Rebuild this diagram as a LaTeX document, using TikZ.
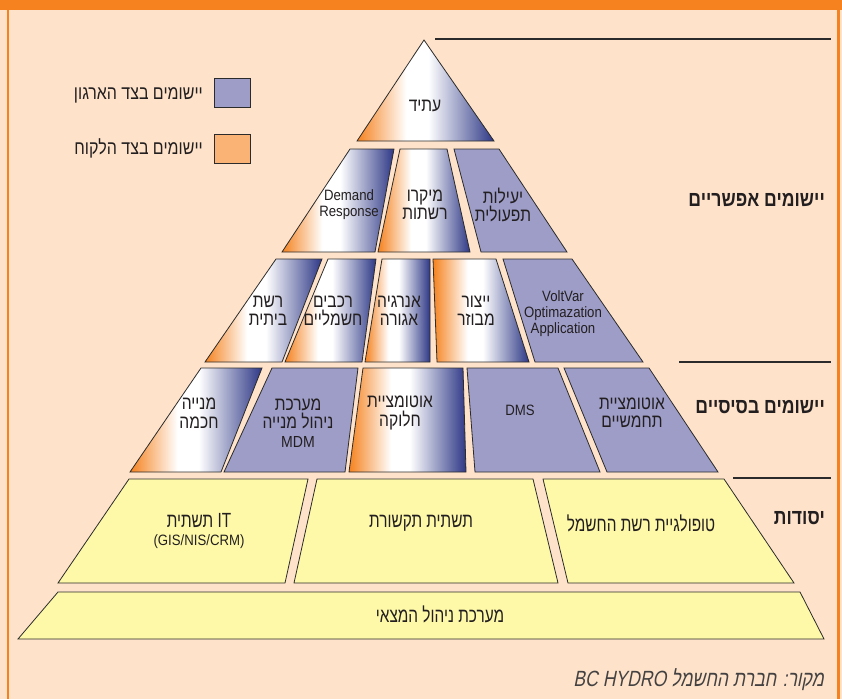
\documentclass[tikz,border=0pt]{standalone}
\usepackage{fontspec}
\setmainfont{Liberation Sans}
\newfontfamily\hebfont[Script=Hebrew,FakeStretch=0.82]{Liberation Sans}
\newfontfamily\hebthin[Script=Hebrew,FakeStretch=0.75]{Liberation Sans}
\newfontfamily\latfont[FakeStretch=0.88]{Liberation Sans}
\newfontfamily\capfont[Script=Hebrew,FakeSlant=0.2,FakeStretch=0.8]{Liberation Sans}
\TeXXeTstate=1
\newcommand\hl[1]{\beginR #1\endR}
\definecolor{bgC}{HTML}{FEE3CA}
\definecolor{borC}{HTML}{F5821F}
\definecolor{gor}{HTML}{F5821F}
\definecolor{gbl}{HTML}{2E3886}
\definecolor{lavC}{HTML}{9D9DC8}
\definecolor{yelC}{HTML}{FEF9A8}
\definecolor{legO}{HTML}{FBB275}
\definecolor{lineC}{HTML}{2B2B2B}
\definecolor{txtC}{HTML}{231F20}
\pgfdeclarehorizontalshading{obw}{100bp}{color(0bp)=(gor); color(25bp)=(gor); color(43bp)=(white); color(51bp)=(white); color(75bp)=(gbl); color(100bp)=(gbl)}
\tikzset{
  shp/.style={draw=lineC, line width=0.8pt, line join=miter},
  grad/.style={shp, shade, shading=obw, shading angle=0},
  lav/.style={shp, fill=lavC},
  yel/.style={shp, fill=yelC},
  txt/.style={text=txtC, font=\hebfont\fontsize{19}{18.5}\selectfont, align=center, inner sep=0pt},
  lat/.style={text=txtC, font=\latfont\fontsize{15}{16}\selectfont, align=center, inner sep=0pt},
  ftxt/.style={text=txtC, font=\hebthin\fontsize{20.5}{18.5}\selectfont, align=center, inner sep=0pt},
  lbl/.style={text=txtC, font=\hebfont\bfseries\fontsize{21.5}{22}\selectfont, inner sep=0pt, anchor=east},
  legtxt/.style={text=txtC, font=\hebfont\fontsize{19.5}{20}\selectfont, inner sep=0pt, anchor=east},
  legbox/.style={draw=lineC, line width=0.8pt, minimum width=36pt, minimum height=29pt, inner sep=0pt},
  rule/.style={draw=lineC, line width=1.2pt},
  captxt/.style={text=txtC!85, font=\capfont\fontsize{22}{22}\selectfont, inner sep=0pt, anchor=east}
}
\begin{document}
\begin{tikzpicture}[x=1pt,y=-1pt]
\useasboundingbox (0,0) rectangle (842,699);
% background and frame
\fill[bgC] (0,0) rectangle (842,699);
\fill[borC] (0,0) rectangle (842,10);
\fill[borC] (6.5,0) rectangle (9,699);
\fill[borC] (837,0) rectangle (840,699);
% rules
\coordinate (r1a) at (435,39); \coordinate (r1b) at (831,39);
\coordinate (r2a) at (679,362); \coordinate (r2b) at (831,362);
\coordinate (r3a) at (733,478); \coordinate (r3b) at (831,478);
\draw[rule] (r1a) -- (r1b);
\draw[rule] (r2a) -- (r2b);
\draw[rule] (r3a) -- (r3b);
% apex
\draw[grad] (424,40) -- (494,141) -- (357,141) -- cycle;
% row 2
\draw[grad] (350,149) -- (394,149) -- (375,252) -- (282,252) -- cycle;
\draw[grad] (400,149) -- (447,149) -- (470,252) -- (378,252) -- cycle;
\draw[lav]  (454,149) -- (499,149) -- (567,252) -- (481,252) -- cycle;
% row 3
\draw[grad] (276,259) -- (322,259) -- (282,362) -- (205,362) -- cycle;
\draw[grad] (328,259) -- (376,259) -- (362,362) -- (285,362) -- cycle;
\draw[grad] (382,259) -- (430,259) -- (430,362) -- (365,362) -- cycle;
\draw[grad] (433,259) -- (496,259) -- (529,362) -- (437,362) -- cycle;
\draw[lav]  (503,259) -- (572,259) -- (643,362) -- (535,362) -- cycle;
% row 4
\draw[grad] (201,368) -- (262,368) -- (221,472) -- (130,472) -- cycle;
\draw[lav]  (272,368) -- (358,368) -- (345,472) -- (224,472) -- cycle;
\draw[grad] (363,368) -- (463,368) -- (466,472) -- (349,472) -- cycle;
\draw[lav]  (467,368) -- (558,368) -- (600,472) -- (475,472) -- cycle;
\draw[lav]  (564,368) -- (649,368) -- (718,472) -- (607,472) -- cycle;
% foundations
\draw[yel] (129,479) -- (308,479) -- (285,583) -- (58,583) -- cycle;
\draw[yel] (317,479) -- (533,479) -- (558,583) -- (294,583) -- cycle;
\draw[yel] (543,479) -- (724,479) -- (794,583) -- (568,583) -- cycle;
\draw[yel] (58,592) -- (800,592) -- (824,639) -- (18,639) -- cycle;
% texts
\node[txt] (tAtid) at (425,106) {\hl{עתיד}};
\node[lat] (tDR) at (349,205) {Demand\\Response};
\node[txt] (tMicro) at (425,205) {\hl{מיקרו}\\\hl{רשתות}};
\node[txt] (tYeil) at (503,205) {\hl{יעילות}\\\hl{תפעולית}};
\node[txt] (tBeit) at (268,311) {\hl{רשת}\\\hl{ביתית}};
\node[txt] (tRech) at (333,311) {\hl{רכבים}\\\hl{חשמליים}};
\node[txt] (tEnerg) at (399,311) {\hl{אנרגיה}\\\hl{אגורה}};
\node[txt] (tYitz) at (476,311) {\hl{ייצור}\\\hl{מבוזר}};
\node[lat] (tVV) at (563,314) {VoltVar\\Optimazation\\Application};
\node[txt] (tMon) at (199,413) {\hl{מנייה}\\\hl{חכמה}};
\node[txt] (tMDM) at (298,423) {\hl{מערכת}\\\hl{ניהול מנייה}\\{\latfont\fontsize{16}{16}\selectfont MDM}};
\node[txt] (tAutoH) at (400,413) {\hl{אוטומציית}\\\hl{חלוקה}};
\node[lat] (tDMS) at (520,410) {DMS};
\node[txt] (tAutoT) at (632,413) {\hl{אוטומציית}\\\hl{תחמשיים}};
\node[ftxt] (tIT) at (199,531) {\hl{\beginL IT\endL{} תשתית}\\{\latfont\fontsize{15}{15}\selectfont (GIS/NIS/CRM)}};
\node[ftxt] (tTik) at (421,523) {\hl{תשתית תקשורת}};
\node[ftxt] (tTop) at (641,523) {\hl{טופולגיית רשת החשמל}};
\node[ftxt] (tMlay) at (440,614) {\hl{מערכת ניהול המצאי}};
% side labels
\node[lbl] (lA) at (825,200) {\hl{יישומים אפשריים}};
\node[lbl] (lB) at (825,407) {\hl{יישומים בסיסיים}};
\node[lbl] (lC) at (825,518) {\hl{יסודות}};
% legend
\node[legbox, fill=lavC] (legA) at (232,92.5) {};
\node[legbox, fill=legO] (legB) at (232,148.5) {};
\node[legtxt] (legAt) at (203,95) {\hl{יישומים בצד הארגון}};
\node[legtxt] (legBt) at (203,148) {\hl{יישומים בצד הלקוח}};
% source
\node[captxt] (src) at (824,680) {\hl{מקור: חברת החשמל \beginL BC HYDRO\endL}};
\end{tikzpicture}
\end{document}
